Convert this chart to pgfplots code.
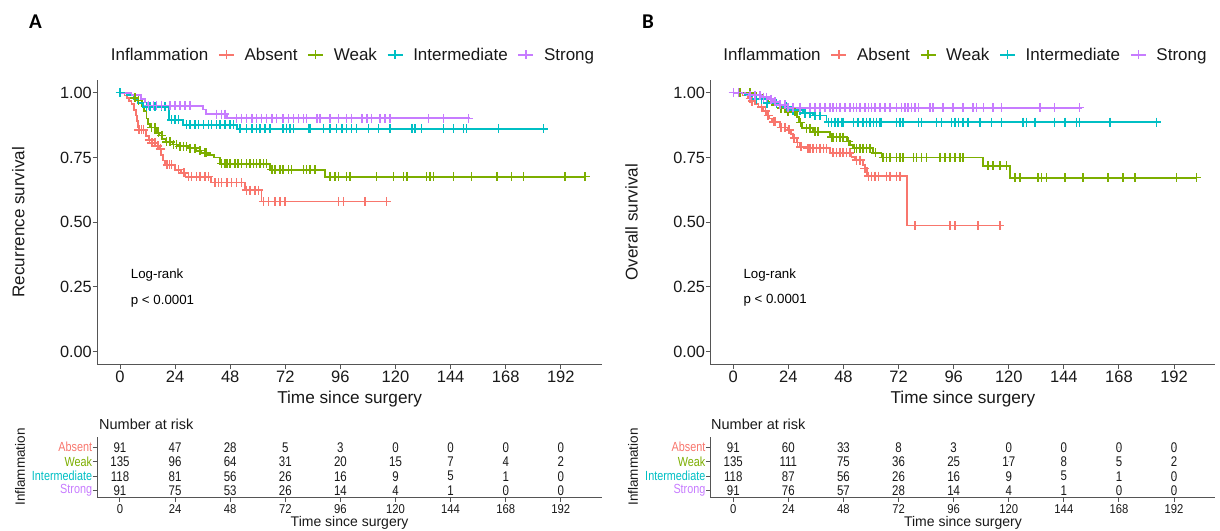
\documentclass[border=0pt]{standalone}
\usepackage{fontspec}
\setmainfont{Liberation Sans}
\newfontfamily\condA[FakeStretch=0.82]{Liberation Sans}
\newfontfamily\condB[FakeStretch=0.88]{Liberation Sans}
\newfontfamily\carl{Carlito}
\usepackage{pgfplots}
\pgfplotsset{compat=1.18}
\definecolor{cA}{HTML}{F8766D}
\definecolor{cW}{HTML}{7CAE00}
\definecolor{cI}{HTML}{00BFC4}
\definecolor{cS}{HTML}{C77CFF}
\definecolor{axc}{HTML}{555555}
\pgfplotsset{legend image code/.code={\draw[mark repeat=2,mark phase=2,#1] plot coordinates {(0pt,0pt) (7.5pt,0pt) (15pt,0pt)};}}
\pgfplotsset{
  kmbase/.style={
    scale only axis, width=505.1pt,
    xmin=-10, xmax=210,
    axis x line*=bottom, axis y line*=left,
    every outer x axis line/.append style={-},
    every outer y axis line/.append style={-},
    axis line style={-, axc, line width=1pt},
    tick style={axc, line width=1pt},
    tick align=outside, major tick length=4.5pt,
    /pgf/number format/assume math mode=true,
    xtick={0,24,...,192},
  },
  kmmain/.style={kmbase, height=284.9pt, ymin=-0.05, ymax=1.05,
    ytick={0,0.25,0.5,0.75,1},
    yticklabel={\pgfmathprintnumber[fixed,fixed zerofill,precision=2]{\tick}},
    xticklabel style={font=\fontsize{16.5}{18}\selectfont, text=black!90, anchor=base, inner sep=0pt, yshift=-13.2pt},
    yticklabel style={font=\fontsize{16.3}{18}\selectfont, text=black!90, anchor=east, inner sep=0pt, xshift=-0.6pt},
    legend style={draw=none, fill=none, inner sep=0pt, outer sep=0pt, legend columns=-1, column sep=10pt, font=\fontsize{17}{18}\selectfont, text=black!90, nodes={inner sep=0pt}, anchor=west},
  },
  kmrisk/.style={kmbase, height=60.6pt, ymin=0.544, ymax=4.73, ytick={1,2,3,4},
    yticklabels={\textcolor{cS}{Strong},\textcolor{cI}{Intermediate},\textcolor{cW}{Weak},\textcolor{cA}{Absent}},
    yticklabel style={font=\condA\fontsize{13.2}{14}\selectfont, anchor=east, inner sep=0pt, xshift=-0.2pt},
    xticklabel style={font=\condB\fontsize{12.8}{14}\selectfont, text=black!90, anchor=base, inner sep=0pt, yshift=-12pt},
  },
  rk/.style={only marks, mark=*, mark size=0.01pt, mark options={draw=none, fill=none},
    nodes near coords, point meta=explicit symbolic,
    every node near coord/.append style={anchor=center, inner sep=0pt, font=\condA\fontsize{14}{14}\selectfont, text=black!90}},
  km/.style={const plot, line width=1.8pt, mark=none, forget plot},
  cens/.style={only marks, mark=+, mark size=4.5pt, mark options={line width=1.5pt, solid}, forget plot},
  lgimg/.style={line width=1.3pt, mark=+, mark size=4.5pt, mark options={line width=1.3pt}},
}
\begin{document}
\begin{tikzpicture}
\path[use as bounding box] (0pt,0pt) rectangle (1220pt,530pt);

% ================= Panel A main =================
\begin{axis}[kmmain, at={(97.04pt,165.35pt)}, anchor=south west,
  legend style={at={(0.0078,1.0869)}}]
\addlegendimage{empty legend}
\addlegendimage{cA, lgimg}
\addlegendimage{cW, lgimg}
\addlegendimage{cI, lgimg}
\addlegendimage{cS, lgimg}
\legend{Inflammation,Absent,Weak,Intermediate,Strong}
% Absent
\addplot[cA, km] coordinates {(0,1)(2,0.989)(3,0.978)(4,0.967)(5,0.956)(6,0.934)(6.8,0.912)(7.3,0.89)(7.8,0.868)(8.4,0.856)(11.3,0.834)(12.5,0.818)(13.7,0.806)(15.5,0.795)(17.3,0.783)(18,0.76)(18.8,0.738)(19.5,0.721)(23.8,0.703)(26.7,0.69)(28.5,0.676)(39.8,0.653)(54.3,0.624)(61.6,0.58)(116,0.58)};
% Weak
\addplot[cW, km] coordinates {(0,1)(3,0.99)(6,0.98)(8,0.97)(9.5,0.95)(10.5,0.93)(11.5,0.9)(12.2,0.88)(13,0.866)(16,0.845)(17,0.835)(18.5,0.82)(20,0.81)(23,0.80)(25,0.793)(30,0.786)(33,0.776)(35.5,0.768)(38,0.76)(41,0.75)(43.5,0.726)(65.2,0.703)(89.2,0.676)(202.6,0.676)};
% Intermediate
\addplot[cI, km] coordinates {(0,1)(3,0.99)(6,0.975)(8,0.96)(10,0.946)(21.5,0.895)(27.5,0.876)(50.8,0.86)(185,0.86)};
% Strong
\addplot[cS, km] coordinates {(0,1)(5,0.99)(9,0.975)(11,0.962)(12,0.95)(36,0.935)(37.5,0.917)(46.5,0.901)(152.5,0.901)};
% censoring marks
\addplot[cA, cens] coordinates {(8.2,.856)(9.4,.856)(10.2,.856)(12.8,.818)(13.9,.806)(15.2,.806)(16.5,.795)(17.6,.783)(20.5,.721)(21.5,.721)(22.5,.721)(25.4,.703)(27.8,.69)(29.8,.676)(31.2,.676)(33.4,.676)(34.8,.676)(37,.676)(38.5,.676)(41.4,.653)(42.8,.653)(44.3,.653)(46.5,.653)(48.6,.653)(50.8,.653)(53,.653)(55.2,.624)(56.6,.624)(58.8,.624)(60.3,.624)(62.4,.58)(64.6,.58)(67.5,.58)(69.7,.58)(71.8,.58)(95.1,.58)(97.3,.58)(106.7,.58)(116,.58)};
\addplot[cW, cens] coordinates {(6.5,.98)(8.0,.97)(13.8,.866)(15.2,.866)(16.7,.845)(18.2,.835)(20.3,.81)(21.8,.81)(23.2,.80)(24.7,.80)(26.1,.793)(27.6,.793)(29.0,.793)(30.5,.786)(32.7,.786)(34.8,.776)(37.0,.768)(37.7,.768)(44.3,.726)(45.7,.726)(46.5,.726)(47.9,.726)(50.1,.726)(51.5,.726)(53.0,.726)(55.2,.726)(56.6,.726)(58.1,.726)(59.5,.726)(61.0,.726)(62.4,.726)(63.9,.726)(66.1,.703)(67.5,.703)(69.7,.703)(71.1,.703)(73.3,.703)(74.8,.703)(79.9,.703)(81.3,.703)(82.8,.703)(85.0,.703)(91.5,.676)(93.7,.676)(95.1,.676)(98.7,.676)(100.2,.676)(111.8,.676)(119.1,.676)(123.4,.676)(124.9,.676)(133.6,.676)(135.0,.676)(136.5,.676)(145.2,.676)(153.2,.676)(164.1,.676)(170.6,.676)(175.7,.676)(193.9,.676)(202.6,.676)};
\addplot[cI, cens] coordinates {(0,1)(11.6,.946)(13.1,.946)(15.2,.946)(18.1,.946)(19.6,.946)(22.5,.895)(23.9,.895)(25.4,.895)(29.0,.876)(30.5,.876)(32.7,.876)(34.1,.876)(36.3,.876)(38.5,.876)(39.9,.876)(42.1,.876)(43.6,.876)(45.7,.876)(47.9,.876)(49.4,.876)(52.3,.86)(55.2,.86)(57.4,.86)(59.5,.86)(61,.86)(63.2,.86)(65.3,.86)(71.1,.86)(72.6,.86)(74.1,.86)(75.5,.86)(82.1,.86)(82.8,.86)(88.6,.86)(91.5,.86)(94.4,.86)(96.6,.86)(98.7,.86)(100.9,.86)(103.1,.86)(108.2,.86)(112.5,.86)(117.6,.86)(127.1,.86)(128.5,.86)(131.4,.86)(140.9,.86)(145.2,.86)(149.6,.86)(151,.86)(164.8,.86)(184.5,.86)};
\addplot[cS, cens] coordinates {(12.5,.95)(14.5,.95)(15.9,.95)(18.1,.95)(21.8,.95)(23.9,.95)(26.1,.95)(28.3,.95)(30.5,.95)(42.1,.917)(44.3,.917)(45.7,.917)(50.8,.901)(53,.901)(55.2,.901)(57.4,.901)(59.5,.901)(61.7,.901)(63.9,.901)(66.1,.901)(68.2,.901)(71.1,.901)(73.3,.901)(75.5,.901)(77.7,.901)(79.9,.901)(81.3,.901)(85.7,.901)(87.1,.901)(91.5,.901)(95.1,.901)(98.7,.901)(100.9,.901)(105.3,.901)(107.5,.901)(109.6,.901)(113.3,.901)(115.5,.901)(117.6,.901)(134.3,.901)(140.9,.901)(151.8,.901)};
\end{axis}

% ================= Panel B main =================
\begin{axis}[kmmain, at={(710.3pt,165.35pt)}, anchor=south west,
  legend style={at={(0.0061,1.0869)}}]
\addlegendimage{empty legend}
\addlegendimage{cA, lgimg}
\addlegendimage{cW, lgimg}
\addlegendimage{cI, lgimg}
\addlegendimage{cS, lgimg}
\legend{Inflammation,Absent,Weak,Intermediate,Strong}
\addplot[cA, km] coordinates {(0,1)(4,0.989)(6.5,0.978)(8,0.967)(9.4,0.956)(11,0.945)(13,0.93)(14.5,0.912)(15.5,0.9)(16.7,0.887)(20.3,0.866)(23.9,0.856)(25,0.84)(26,0.825)(27.6,0.808)(29,0.791)(31.9,0.785)(42.1,0.768)(51.5,0.752)(53,0.74)(56.6,0.72)(57.5,0.708)(58.1,0.678)(75.5,0.487)(116.1,0.487)};
\addplot[cW, km] coordinates {(0,1)(10,0.99)(13,0.98)(15,0.965)(17,0.953)(20.3,0.94)(23,0.927)(27.6,0.907)(28.8,0.885)(30,0.863)(34.8,0.849)(42.1,0.828)(49.4,0.812)(51,0.798)(52.3,0.785)(61,0.768)(64.6,0.75)(108.9,0.717)(120.5,0.672)(201.7,0.672)};
\addplot[cI, km] coordinates {(0,1)(5,0.99)(8,0.975)(14.5,0.96)(20.3,0.945)(25,0.933)(30.5,0.921)(34.8,0.912)(40.6,0.886)(185,0.886)};
\addplot[cS, km] coordinates {(0,1)(7,0.99)(12,0.983)(16,0.975)(17.4,0.965)(20,0.953)(23.5,0.942)(151.7,0.942)};
\addplot[cA, cens] coordinates {(7.3,.978)(8.2,.967)(12.3,.945)(14,.93)(15.2,.912)(17.5,.887)(18.2,.887)(20.8,.866)(22.5,.866)(24.3,.856)(26.5,.825)(28,.808)(29.5,.791)(32.5,.785)(33.4,.785)(34.8,.785)(36.3,.785)(37.7,.785)(39.2,.785)(40.6,.785)(43.5,.768)(45,.768)(46.4,.768)(47.9,.768)(49.4,.768)(50.8,.768)(53.7,.74)(55.2,.74)(57.3,.708)(58.8,.678)(60.3,.678)(61.7,.678)(63.2,.678)(66.8,.678)(68.2,.678)(71.1,.678)(72.6,.678)(79.1,.487)(94.3,.487)(96.5,.487)(106.7,.487)(116.1,.487)};
\addplot[cW, cens] coordinates {(0,1)(2.9,1)(7.3,1)(20.8,.94)(22.5,.94)(23.9,.927)(26.9,.927)(29.3,.885)(32,.863)(33.4,.863)(35.6,.849)(37,.849)(42.8,.828)(43.5,.828)(45,.828)(46.4,.828)(47.9,.828)(50.2,.812)(52.8,.785)(53.7,.785)(55.2,.785)(56.6,.785)(58.1,.785)(59.5,.785)(62,.768)(65.3,.75)(66.8,.75)(68.2,.75)(71.1,.75)(72.6,.75)(74,.75)(78.4,.75)(79.8,.75)(82,.75)(84.2,.75)(90,.75)(92.2,.75)(94.3,.75)(96.5,.75)(98.7,.75)(100.1,.75)(111,.717)(113.2,.717)(116.1,.717)(119,.717)(122.6,.672)(124.8,.672)(132.8,.672)(134.2,.672)(136.4,.672)(144.4,.672)(152.4,.672)(163.3,.672)(169.8,.672)(174.9,.672)(193,.672)(201.7,.672)};
\addplot[cI, cens] coordinates {(0,1)(10.2,.975)(12.3,.975)(14.8,.96)(18.9,.96)(23.2,.945)(26.1,.933)(29,.933)(31.2,.921)(33.4,.921)(35.6,.912)(37.7,.912)(41.4,.886)(42.8,.886)(44.3,.886)(45.7,.886)(47.2,.886)(47.9,.886)(52.3,.886)(54.4,.886)(56.6,.886)(58.1,.886)(59.5,.886)(61,.886)(62.4,.886)(63.9,.886)(64.6,.886)(71.1,.886)(72.6,.886)(74,.886)(80.6,.886)(82,.886)(88.5,.886)(90.7,.886)(95.1,.886)(96.5,.886)(98,.886)(100.1,.886)(102.3,.886)(107.4,.886)(112.5,.886)(116.8,.886)(126.3,.886)(127.7,.886)(131.4,.886)(140,.886)(144.4,.886)(149.4,.886)(150.9,.886)(164,.886)(184.3,.886)};
\addplot[cS, cens] coordinates {(0,1)(2.2,1)(7.3,.99)(9.4,.99)(11.6,.99)(13.1,.983)(14.5,.983)(16.5,.975)(18.2,.965)(20.3,.953)(22.5,.953)(23.9,.942)(26.1,.942)(29,.942)(33.4,.942)(35.6,.942)(37.7,.942)(39.9,.942)(42.1,.942)(43.5,.942)(45,.942)(46.4,.942)(48.6,.942)(50.8,.942)(52.3,.942)(53.7,.942)(55.2,.942)(57.3,.942)(58.8,.942)(60.3,.942)(61.7,.942)(63.9,.942)(66,.942)(68.2,.942)(71.1,.942)(73.3,.942)(74.7,.942)(76.2,.942)(77.6,.942)(79.1,.942)(80.6,.942)(85.6,.942)(87.1,.942)(91.4,.942)(95.8,.942)(100.1,.942)(104.5,.942)(105.9,.942)(108.9,.942)(113.2,.942)(116.8,.942)(133.5,.942)(140,.942)(150.9,.942)};
\end{axis}

% ================= Risk table A =================
\begin{axis}[kmrisk, at={(97.04pt,32.7pt)}, anchor=south west]
\addplot[rk] table[x=t, y=r, meta=n, row sep=\\] {t r n\\ 0 4 91\\ 24 4 47\\ 48 4 28\\ 72 4 5\\ 96 4 3\\ 120 4 0\\ 144 4 0\\ 168 4 0\\ 192 4 0\\};
\addplot[rk] table[x=t, y=r, meta=n, row sep=\\] {t r n\\ 0 3 135\\ 24 3 96\\ 48 3 64\\ 72 3 31\\ 96 3 20\\ 120 3 15\\ 144 3 7\\ 168 3 4\\ 192 3 2\\};
\addplot[rk] table[x=t, y=r, meta=n, row sep=\\] {t r n\\ 0 2 118\\ 24 2 81\\ 48 2 56\\ 72 2 26\\ 96 2 16\\ 120 2 9\\ 144 2 5\\ 168 2 1\\ 192 2 0\\};
\addplot[rk] table[x=t, y=r, meta=n, row sep=\\] {t r n\\ 0 1 91\\ 24 1 75\\ 48 1 53\\ 72 1 26\\ 96 1 14\\ 120 1 4\\ 144 1 1\\ 168 1 0\\ 192 1 0\\};
\end{axis}

% ================= Risk table B =================
\begin{axis}[kmrisk, at={(710.3pt,32.7pt)}, anchor=south west]
\addplot[rk] table[x=t, y=r, meta=n, row sep=\\] {t r n\\ 0 4 91\\ 24 4 60\\ 48 4 33\\ 72 4 8\\ 96 4 3\\ 120 4 0\\ 144 4 0\\ 168 4 0\\ 192 4 0\\};
\addplot[rk] table[x=t, y=r, meta=n, row sep=\\] {t r n\\ 0 3 135\\ 24 3 111\\ 48 3 75\\ 72 3 36\\ 96 3 25\\ 120 3 17\\ 144 3 8\\ 168 3 5\\ 192 3 2\\};
\addplot[rk] table[x=t, y=r, meta=n, row sep=\\] {t r n\\ 0 2 118\\ 24 2 87\\ 48 2 56\\ 72 2 26\\ 96 2 16\\ 120 2 9\\ 144 2 5\\ 168 2 1\\ 192 2 0\\};
\addplot[rk] table[x=t, y=r, meta=n, row sep=\\] {t r n\\ 0 1 91\\ 24 1 76\\ 48 1 57\\ 72 1 28\\ 96 1 14\\ 120 1 4\\ 144 1 1\\ 168 1 0\\ 192 1 0\\};
\end{axis}

% ================= Text =================
\node[font=\carl\bfseries\fontsize{21}{21}\selectfont] at (35.5pt,508pt) {A};
\node[font=\carl\bfseries\fontsize{21}{21}\selectfont] at (648pt,508pt) {B};
\node[rotate=90, font=\fontsize{17}{18}\selectfont, text=black!90] at (18.3pt,307.8pt) {Recurrence survival};
\node[rotate=90, font=\fontsize{17}{18}\selectfont, text=black!90] at (631.6pt,307.8pt) {Overall survival};
\node[font=\fontsize{17.2}{18}\selectfont, text=black!90] at (349.6pt,131pt) {Time since surgery};
\node[font=\fontsize{17.2}{18}\selectfont, text=black!90] at (962.9pt,131pt) {Time since surgery};
\node[anchor=west, inner sep=0pt, font=\fontsize{13.3}{14}\selectfont] at (130.7pt,255pt) {Log-rank};
\node[anchor=west, inner sep=0pt, font=\fontsize{13.3}{14}\selectfont] at (130.7pt,228.3pt) {p < 0.0001};
\node[anchor=west, inner sep=0pt, font=\fontsize{13.3}{14}\selectfont] at (743.3pt,255pt) {Log-rank};
\node[anchor=west, inner sep=0pt, font=\fontsize{13.3}{14}\selectfont] at (743.3pt,230pt) {p < 0.0001};
\node[anchor=west, inner sep=0pt, font=\fontsize{14.5}{15}\selectfont, text=black!90] at (99pt,106pt) {Number at risk};
\node[anchor=west, inner sep=0pt, font=\fontsize{14.5}{15}\selectfont, text=black!90] at (711pt,106pt) {Number at risk};
\node[rotate=90, font=\fontsize{13.5}{14}\selectfont, text=black!90] at (20pt,63pt) {Inflammation};
\node[rotate=90, font=\fontsize{13.5}{14}\selectfont, text=black!90] at (633pt,63pt) {Inflammation};
\node[inner sep=0pt, font=\fontsize{14}{15}\selectfont, text=black!90] at (349.6pt,7pt) {Time since surgery};
\node[inner sep=0pt, font=\fontsize{14}{15}\selectfont, text=black!90] at (962.9pt,7pt) {Time since surgery};
\end{tikzpicture}
\end{document}
